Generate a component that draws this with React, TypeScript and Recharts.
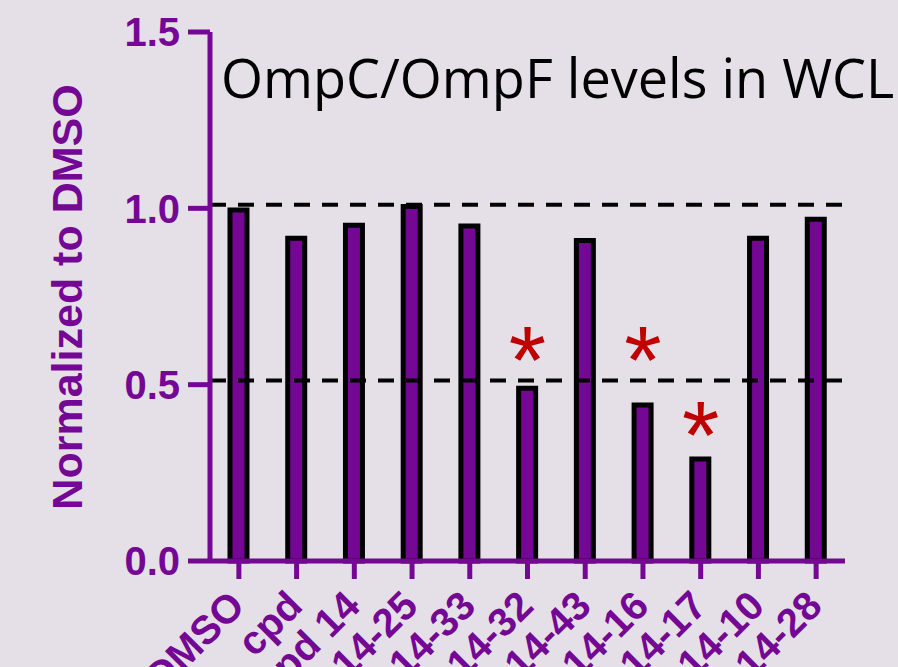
import { ComposedChart, Bar, Scatter, XAxis, YAxis, ReferenceLine } from "recharts"

const categories = ["DMSO", "cpd", "cpd 14", "14-25", "14-33", "14-32", "14-43", "14-16", "14-17", "14-10", "14-28"]
const values = [0.995, 0.915, 0.952, 1.005, 0.95, 0.49, 0.909, 0.442, 0.289, 0.915, 0.969]
// y position of the significance asterisk (null = none)
const stars = [null, null, null, null, null, 0.632, null, 0.632, 0.42, null, null]
const yTicks = [0, 0.5, 1.0, 1.5]
const refLines = [1.01, 0.512]

const purple = "#740894"
const bg = "#e5e0e7"

const data = categories.map((name, i) => ({ name, value: values[i], star: stars[i] }))

const XTick = (props: any) => {
  const { x, y, payload } = props
  const ax = x + 8
  const ay = y + 27
  return (
    <text
      x={ax}
      y={ay}
      transform={`rotate(-45, ${ax}, ${ay})`}
      textAnchor="end"
      fill={purple}
      fontSize={40}
      fontWeight="bold"
      fontFamily="Liberation Sans, Arial, sans-serif"
    >
      {payload.value}
    </text>
  )
}

const Star = (props: any) => {
  const { cx, cy, payload } = props
  if (payload == null || payload.star == null || cx == null || cy == null) return <g />
  const fs = 96
  return (
    <text
      x={cx}
      y={cy + fs * 0.57}
      textAnchor="middle"
      fill="#c00000"
      fontSize={fs}
      fontFamily="Liberation Sans, Arial, sans-serif"
    >
      *
    </text>
  )
}

const YLabel = () => (
  <text
    x={82}
    y={297}
    transform="rotate(-90, 82, 297)"
    textAnchor="middle"
    fill={purple}
    fontSize={43}
    fontWeight="bold"
    fontFamily="Liberation Sans, Arial, sans-serif"
  >
    Normalized to DMSO
  </text>
)

export default function App() {
  return (
    <div style={{ position: "absolute", left: 0, top: 0, width: 898, height: 667, background: bg, overflow: "hidden" }}>
      <div
        style={{
          position: "absolute",
          left: 221,
          top: 42,
          fontFamily: "'Open Sans', sans-serif",
          fontSize: 54,
          color: "#000",
          whiteSpace: "nowrap",
          lineHeight: "70px",
        }}
      >
        OmpC/OmpF levels in WCL
      </div>
      <ComposedChart width={898} height={667} data={data} margin={{ top: 32, right: 53, bottom: 0, left: 0 }}>
        <XAxis
          dataKey="name"
          interval={0}
          tick={<XTick />}
          tickSize={18}
          axisLine={{ stroke: purple, strokeWidth: 5 }}
          tickLine={{ stroke: purple, strokeWidth: 5 }}
          height={106}
        />
        <YAxis
          width={210}
          domain={[0, 1.5]}
          ticks={yTicks}
          tickFormatter={(v: number) => v.toFixed(1)}
          tickSize={22}
          tickMargin={8}
          axisLine={{ stroke: purple, strokeWidth: 5 }}
          tickLine={{ stroke: purple, strokeWidth: 5 }}
          tick={{ fill: purple, fontSize: 40, fontWeight: "bold", fontFamily: "Liberation Sans, Arial, sans-serif" }}
          label={<YLabel />}
        />
        {refLines.map((v) => (
          <ReferenceLine key={v} y={v} stroke="#000" strokeWidth={4} strokeDasharray="16 12" />
        ))}
        <Bar dataKey="value" fill={purple} stroke="#000" strokeWidth={5} barSize={17} isAnimationActive={false} />
        <Scatter dataKey="star" shape={<Star />} isAnimationActive={false} />
      </ComposedChart>
    </div>
  )
}
